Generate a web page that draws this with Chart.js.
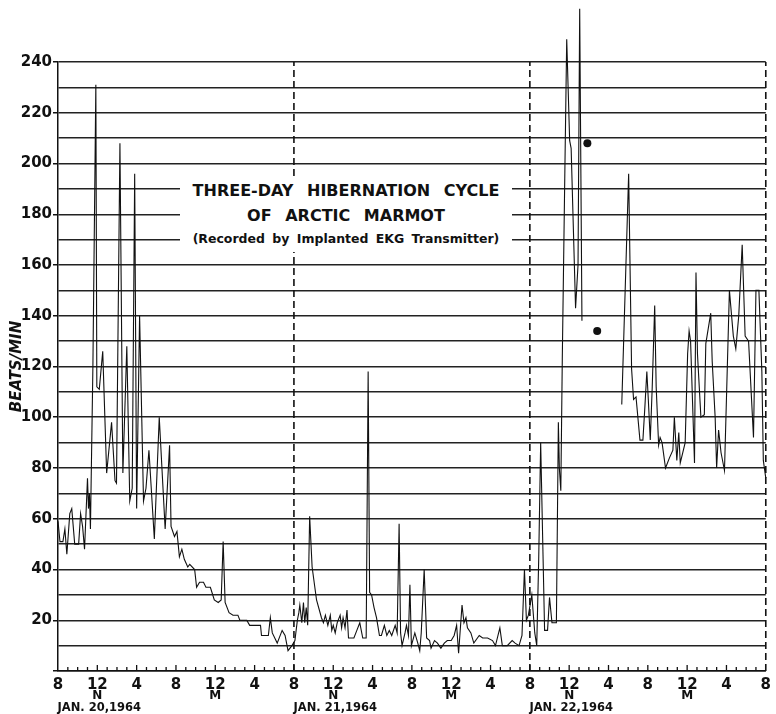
<!DOCTYPE html>
<html>
<head>
<meta charset="utf-8">
<script src="https://cdn.jsdelivr.net/npm/chart.js@4.4.1/dist/chart.umd.min.js"></script>
<style>
  body { margin: 0; background: #fff; }
  #wrap { position: relative; width: 776px; height: 714px; }
  #note {
    position: absolute; left: 180px; top: 176px; width: 332px; height: 76px;
    background: #fff; text-align: center; color: #111;
    font-family: 'DejaVu Sans', sans-serif; font-weight: bold;
  }
  #note .t1 { font-size: 16px; line-height: 25px; word-spacing: 8px; }
  #note .t2 { font-size: 12.5px; line-height: 22px; word-spacing: 3px; }
</style>
</head>
<body>
<div id="wrap">
  <canvas id="chart" width="776" height="714"></canvas>
  <div id="note">
    <div class="t1" style="margin-top:2px">THREE-DAY HIBERNATION CYCLE</div>
    <div class="t1">OF ARCTIC MARMOT</div>
    <div class="t2">(Recorded by Implanted EKG Transmitter)</div>
  </div>
</div>
<script>
// hours after 8 A.M. Jan 20, 1964 and heart rate (beats/min)
const hours1 = [0, 0.2, 0.5, 0.7, 0.9, 1.2, 1.4, 1.7, 2.1, 2.3,
  2.5, 2.7, 3.0, 3.1, 3.2, 3.3, 3.55, 3.85, 3.95, 4.2,
  4.55, 4.95, 5.45, 5.8, 5.95, 6.3, 6.6, 7.0, 7.3, 7.55,
  7.8, 8.0, 8.3, 8.7, 8.95, 9.25, 9.8, 10.3, 10.9, 11.35,
  11.5, 11.85, 12.1, 12.35, 12.6, 12.85, 13.2, 13.4, 13.9, 14.1,
  14.4, 14.8, 15.05, 15.5, 15.9, 16.3, 16.6, 16.8, 17.0, 17.4,
  17.8, 18.3, 18.5, 19.2, 19.5, 20.6, 20.7, 21.4, 21.6, 21.8,
  22.3, 22.8, 23.1, 23.4, 23.8];
const bpm1 = [59, 51, 51, 56, 46, 62, 64, 50, 50, 62,
  57, 48, 76, 64, 70, 56, 120, 231, 112, 111,
  126, 78, 98, 75, 74, 208, 78, 128, 67, 72,
  196, 64, 140, 67, 72, 87, 52, 100, 56, 89,
  57, 53, 55, 45, 48, 44, 41, 42, 40, 33,
  35, 35, 33, 33, 28, 27, 28, 51, 27, 23,
  22, 22, 20, 20, 18, 18, 14, 14, 21, 15,
  11, 16, 14, 8, 10];

const hours2 = [24.1, 24.35, 24.5, 24.6, 24.8, 24.97, 25.1, 25.25, 25.4, 25.6,
  25.85, 26.3, 26.8, 27.0, 27.2, 27.45, 27.7, 27.85, 28.0, 28.2,
  28.4, 28.7, 28.85, 29.0, 29.2, 29.4, 29.55, 30.1, 30.4, 30.7,
  31.0, 31.35, 31.55, 31.7, 31.9, 32.15, 32.4, 32.7, 32.9, 33.2,
  33.45, 33.7, 33.95, 34.3, 34.5, 34.7, 34.85, 35.0, 35.3, 35.45,
  35.65, 35.8, 35.95, 36.3, 36.6, 36.8, 36.95, 37.25, 37.5, 37.8,
  37.95, 38.3, 38.6, 38.95, 39.3, 39.6, 40.0, 40.3, 40.55, 40.75,
  41.1, 41.3, 41.5, 41.65, 42.0, 42.3, 42.85, 43.2, 43.7, 44.2,
  44.5, 44.95, 45.2, 45.7, 46.2, 46.5, 46.9, 47.2, 47.45, 47.65,
  47.85];
const bpm2 = [12, 20, 23, 26, 19, 27, 19, 25, 18, 61,
  41, 28, 21, 19, 22, 18, 22, 16, 18, 15,
  19, 22, 17, 21, 17, 24, 13, 13, 16, 19,
  13, 13, 118, 31, 30, 25, 21, 14, 14, 18,
  14, 16, 14, 18, 15, 58, 15, 10, 15, 18,
  14, 34, 10, 15, 11, 8, 15, 40, 13, 12,
  9, 12, 11, 9, 11, 12, 12, 14, 18, 7,
  26, 19, 21, 17, 15, 11, 14, 13, 13, 12,
  10, 17, 10, 10, 12, 11, 10, 14, 40, 20,
  22];

// null = break in the recording
const hours3 = [48.2, 48.5, 48.7, 48.9, 49.1, 49.5, 49.8, 50.0, 50.25, 50.7,
  50.9, 51.0, 51.15, 51.3, 51.55, 51.75, 52.05, 52.2, 52.65, 52.9,
  53.07, 53.3, 55.5, 57.35, 58.05, 58.35, 58.55, 58.8, 59.2, 59.5,
  59.7, 59.9, 60.05, 60.25, 60.45, 60.7, 60.85, 61.1, 61.25, 61.45,
  61.8, 62.2, 62.55, 62.7, 62.95, 63.15, 63.3, 63.55, 63.8, 64.05,
  64.2, 64.35, 64.75, 64.9, 65.05, 65.4, 65.75, 65.9, 66.4, 66.55,
  66.85, 67.0, 67.2, 67.45, 67.8, 68.3, 68.7, 68.95, 69.25, 69.6,
  69.9, 70.25, 70.75, 71.0, 71.3, 71.6, 71.75, 72.0];
const bpm3 = [30, 15, 10, 44, 90, 16, 16, 29, 19, 19,
  98, 80, 71, 123, 194, 249, 209, 206, 143, 160,
  261, 138, null, 105, 196, 119, 107, 108, 91, 91,
  104, 118, 107, 91, 112, 144, 112, 89, 92, 90,
  80, 84, 87, 100, 83, 94, 82, 86, 90, 125,
  134, 130, 82, 157, 125, 100, 101, 129, 141, 122,
  100, 80, 95, 86, 79, 150, 132, 127, 140, 168,
  132, 130, 92, 150, 150, 118, 83, 76];

const dotHours = [53.85, 54.85];
const dotBpm = [208, 134];

const clockLabels = ['8', '12', '4', '8', '12', '4', '8', '12', '4', '8',
  '12', '4', '8', '12', '4', '8', '12', '4', '8'];
const noonHours = [4, 28, 52];
const midnightHours = [16, 40, 64];
const dayLabels = ['JAN. 20,1964', 'JAN. 21,1964', 'JAN. 22,1964'];
const dayBreaks = [24, 48, 72];

Chart.defaults.font.family = "'DejaVu Sans', sans-serif";
Chart.defaults.color = '#111';

function pts(hs, vs) {
  return hs.map((h, i) => ({ x: h, y: vs[i] }));
}
const trace = pts(hours1, bpm1).concat(pts(hours2, bpm2), pts(hours3, bpm3));

const extras = {
  id: 'extras',
  beforeDatasetsDraw(chart) {
    const { ctx, scales: { x, y } } = chart;
    const y0 = y.getPixelForValue(0);
    const yTop = y.getPixelForValue(240);
    ctx.save();
    ctx.strokeStyle = '#111';
    ctx.lineWidth = 1.3;
    for (let h = 1; h < 72; h++) {
      const px = x.getPixelForValue(h);
      const len = h % 4 === 0 ? 6 : 4;
      ctx.beginPath();
      ctx.moveTo(px, y0);
      ctx.lineTo(px, y0 - len);
      ctx.stroke();
    }
    ctx.setLineDash([7, 4]);
    ctx.lineWidth = 1.6;
    dayBreaks.forEach(h => {
      const px = x.getPixelForValue(h);
      ctx.beginPath();
      ctx.moveTo(px, y0);
      ctx.lineTo(px, yTop);
      ctx.stroke();
    });
    ctx.restore();
  },
  afterDraw(chart) {
    const { ctx, scales: { x } } = chart;
    ctx.save();
    ctx.fillStyle = '#111';
    ctx.textAlign = 'center';
    ctx.textBaseline = 'middle';
    ctx.font = "bold 12px 'DejaVu Sans'";
    noonHours.forEach(h => ctx.fillText('N', x.getPixelForValue(h), 696));
    midnightHours.forEach(h => ctx.fillText('M', x.getPixelForValue(h), 696));
    ctx.font = "bold 11.5px 'DejaVu Sans'";
    noonHours.forEach((h, i) => ctx.fillText(dayLabels[i], x.getPixelForValue(h) + 2, 708));
    ctx.restore();
  }
};

new Chart(document.getElementById('chart'), {
  type: 'line',
  data: {
    datasets: [{
      data: trace,
      borderColor: '#111',
      borderWidth: 1.1,
      pointRadius: 0,
      tension: 0,
      spanGaps: false,
      clip: false
    }, {
      type: 'scatter',
      data: pts(dotHours, dotBpm),
      pointRadius: 4,
      backgroundColor: '#111',
      borderWidth: 0,
      clip: false
    }]
  },
  options: {
    responsive: false,
    animation: false,
    layout: { padding: { top: 62, right: 6, left: 0, bottom: 0 } },
    plugins: { legend: { display: false }, tooltip: { enabled: false } },
    scales: {
      x: {
        type: 'linear',
        min: 0,
        max: 72,
        afterFit: s => { s.height = 43; },
        grid: { display: false, drawTicks: false },
        border: { color: '#111', width: 1.5 },
        ticks: {
          stepSize: 4,
          autoSkip: false,
          maxRotation: 0,
          padding: 5,
          font: { size: 15, weight: 'bold' },
          callback: v => clockLabels[Math.round(v / 4)]
        }
      },
      y: {
        min: 0,
        max: 240,
        afterFit: s => { s.width = 58; },
        grid: {
          color: '#222',
          lineWidth: 1.5,
          tickLength: 5,
          tickColor: c => (c.tick && c.tick.value % 20 === 0 ? '#111' : 'rgba(0,0,0,0)')
        },
        border: { color: '#111', width: 1.5 },
        ticks: {
          stepSize: 10,
          autoSkip: false,
          padding: 1,
          font: { size: 15, weight: 'bold' },
          callback: v => (v % 20 === 0 && v > 0 ? v : '')
        },
        title: {
          display: true,
          text: 'BEATS/MIN',
          padding: { top: 8, bottom: 0 },
          font: { size: 15, weight: 'bold', style: 'italic' }
        }
      }
    }
  },
  plugins: [extras]
});
</script>
</body>
</html>
